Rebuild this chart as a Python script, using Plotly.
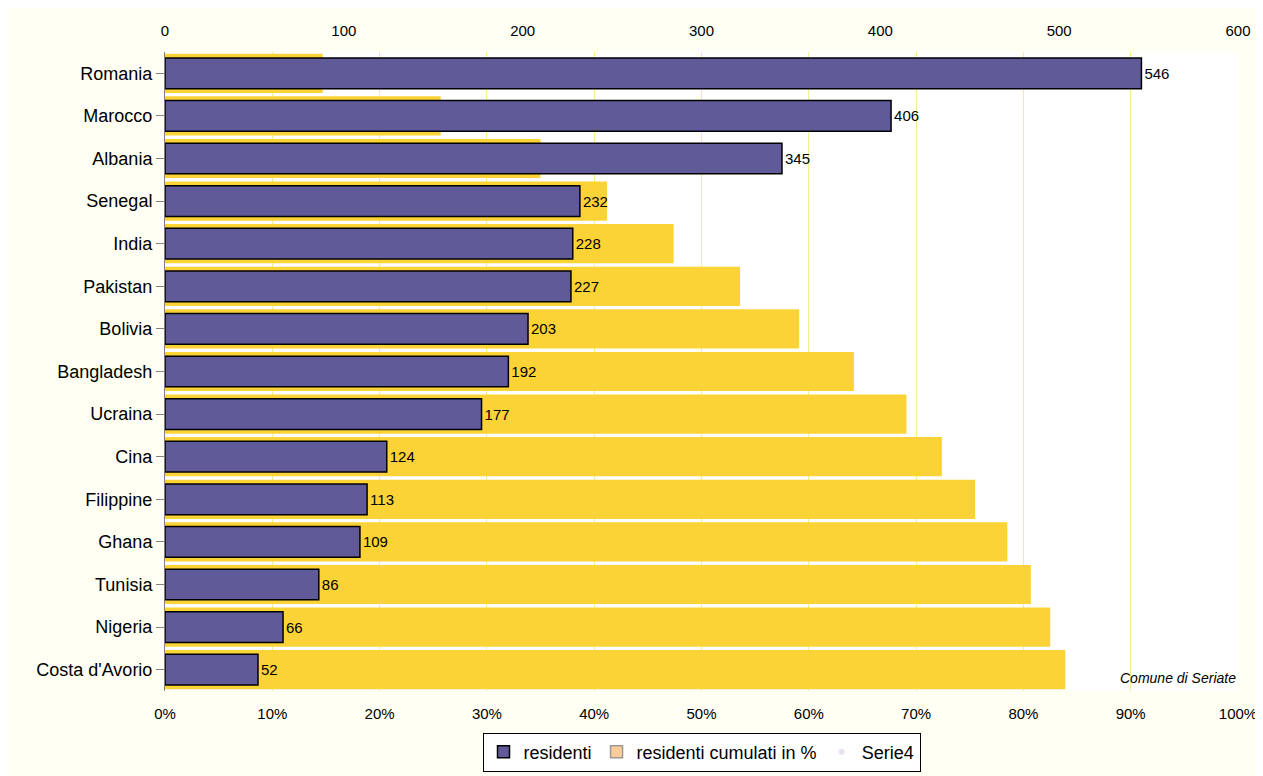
import plotly.graph_objects as go

paesi = ["Romania", "Marocco", "Albania", "Senegal", "India", "Pakistan", "Bolivia",
         "Bangladesh", "Ucraina", "Cina", "Filippine", "Ghana", "Tunisia", "Nigeria",
         "Costa d'Avorio"]
residenti = [546, 406, 345, 232, 228, 227, 203, 192, 177, 124, 113, 109, 86, 66, 52]
cumulati = [0.147, 0.257, 0.350, 0.412, 0.474, 0.536, 0.591, 0.642, 0.691, 0.724,
            0.755, 0.785, 0.807, 0.825, 0.839]

fig = go.Figure()
fig.add_trace(go.Bar(y=paesi, x=cumulati, orientation="h", width=0.92,
                     marker=dict(color="#FBD337", line=dict(width=0)),
                     xaxis="x", showlegend=False, hoverinfo="x+y"))
fig.add_trace(go.Bar(y=paesi, x=residenti, orientation="h", width=0.72,
                     marker=dict(color="#605A98", line=dict(color="black", width=1.5)),
                     xaxis="x2", text=residenti, textposition="outside",
                     textfont=dict(size=15, color="black"), cliponaxis=False,
                     showlegend=False))
# legend entries
fig.add_trace(go.Bar(y=[None], x=[None], name="residenti", orientation="h",
                     marker=dict(color="#605A98", line=dict(color="black", width=1.5))))
fig.add_trace(go.Bar(y=[None], x=[None], name="residenti cumulati in %", orientation="h",
                     marker=dict(color="#FFCC99", line=dict(color="#999999", width=1.5))))
fig.add_trace(go.Scatter(y=[None], x=[None], name="Serie4", mode="markers",
                         marker=dict(opacity=0)))

fig.update_layout(
    template="none",
    width=1263, height=776, barmode="overlay",
    paper_bgcolor="#FFFFF3", plot_bgcolor="white",
    margin=dict(l=157, r=33, t=44, b=67),
    font=dict(family="Liberation Sans, Arial", size=15, color="black"),
    xaxis=dict(range=[0, 1], tickformat=".0%", dtick=0.1, showgrid=True,
               gridcolor="#F3EE8C", zeroline=False, ticks="", tickfont=dict(size=15),
               ticklabelstandoff=12, showline=False),
    xaxis2=dict(range=[0, 600], dtick=100, overlaying="x", side="top", showgrid=False,
                zeroline=False, ticks="", showline=False,
                tickfont=dict(size=15), ticklabelstandoff=12),
    yaxis=dict(autorange="reversed", showline=True, linecolor="#808080", ticks="outside",
               ticklen=8, tickcolor="#808080", tickfont=dict(size=18),
               range=[14.5, -0.5], showgrid=False, zeroline=False),
    legend=dict(orientation="h", x=0.5, xanchor="center", y=-0.065, yanchor="top",
                bgcolor="white", bordercolor="black", borderwidth=1,
                font=dict(size=18), itemwidth=30),
    annotations=[dict(text="<i>Comune di Seriate</i>", xref="paper", yref="paper",
                      x=1, y=0.005, xanchor="right", yanchor="bottom", showarrow=False,
                      font=dict(size=14))],
    bargap=0.1,
)
fig.write_html("out.html")
